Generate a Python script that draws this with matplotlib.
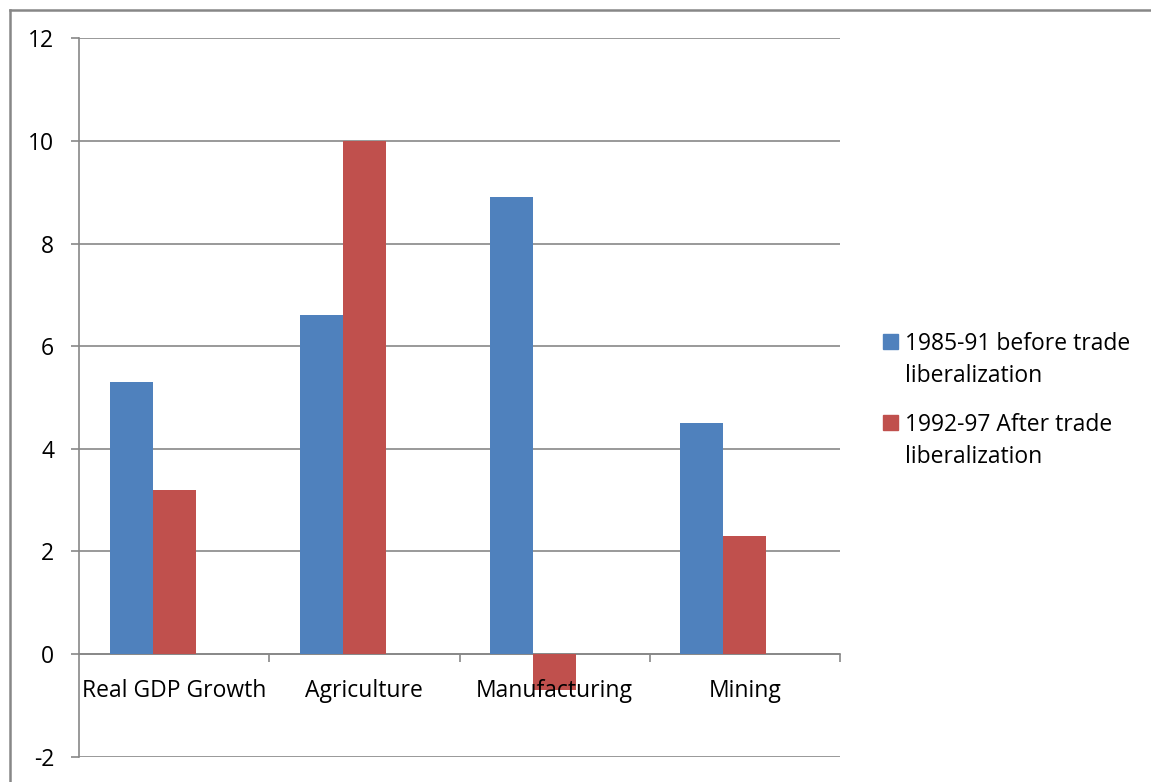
import matplotlib
matplotlib.use("Agg")
import matplotlib.pyplot as plt
from matplotlib.lines import Line2D
from matplotlib.patches import Rectangle
import numpy as np

categories = ["Real GDP Growth", "Agriculture", "Manufacturing", "Mining"]
before = [5.3, 6.6, 8.9, 4.5]
after = [3.2, 10.0, -0.7, 2.3]
series_labels = ["1985-91 before trade\nliberalization", "1992-97 After trade\nliberalization"]
yticks = [-2, 0, 2, 4, 6, 8, 10, 12]

plt.rcParams['font.family'] = ['Open Sans', 'DejaVu Sans']
FS = 16.5

W, H = 1151, 782
fig = plt.figure(figsize=(W / 100, H / 100), dpi=100)
ax = fig.add_axes([79/W, 1-756.7/H, (840-79)/W, (756.7-38.3)/H])

grey = "#878787"
blue = "#4F81BD"
red = "#C0504D"
colors = [blue, red]

# three slots per category (the third one is unused), so the pair sits left of centre
x = np.arange(len(categories))
w = 0.226
ax.bar(x - w, before, w, color=blue, zorder=3)
ax.bar(x, after, w, color=red, zorder=3)

ax.set_xlim(-0.5, len(categories) - 0.5)
ax.set_ylim(-2, 12)
ax.set_yticks(yticks)
ax.set_yticklabels([str(t) for t in yticks])
ax.set_axisbelow(True)
ax.yaxis.grid(True, color=grey, linewidth=1.2)

for s in ["top", "right"]:
    ax.spines[s].set_visible(False)
ax.spines["left"].set_color(grey)
ax.spines["left"].set_linewidth(1.2)
ax.spines["bottom"].set_position(("data", 0))
ax.spines["bottom"].set_color(grey)
ax.spines["bottom"].set_linewidth(1.2)
ax.spines["bottom"].set_zorder(2)

ax.set_xticks(x)
ax.set_xticklabels(categories)
ax.set_xticks(np.arange(len(categories)) + 0.5, minor=True)
ax.tick_params(axis="x", which="major", length=0, pad=18, labelsize=FS)
ax.tick_params(axis="x", which="minor", length=6, color=grey, width=1.2, direction="out")
ax.tick_params(axis="y", length=6, color=grey, width=1.2, pad=12, labelsize=FS)
ax.xaxis.set_zorder(4)

# legend: swatch beside the first line of each two-line label
swatch_top = [334, 415]
line_gap = 33
for i, (lab, col) in enumerate(zip(series_labels, colors)):
    top = swatch_top[i]
    fig.add_artist(Rectangle((883/W, 1-(top+15)/H), 15/W, 15/H, color=col,
                             transform=fig.transFigure))
    fig.text(905/W, 1-(top+15+line_gap)/H, lab, fontsize=FS, va="baseline", ha="left",
             linespacing=1.44, transform=fig.transFigure)

# outer chart border (left and top edges)
fig.add_artist(Line2D([9.5/W, 9.5/W], [0, 1-9.5/H], color=grey, linewidth=1.8,
                      transform=fig.transFigure))
fig.add_artist(Line2D([9.5/W, 1], [1-9.5/H, 1-9.5/H], color=grey, linewidth=1.8,
                      transform=fig.transFigure))

fig.savefig("out.png", dpi=100)
